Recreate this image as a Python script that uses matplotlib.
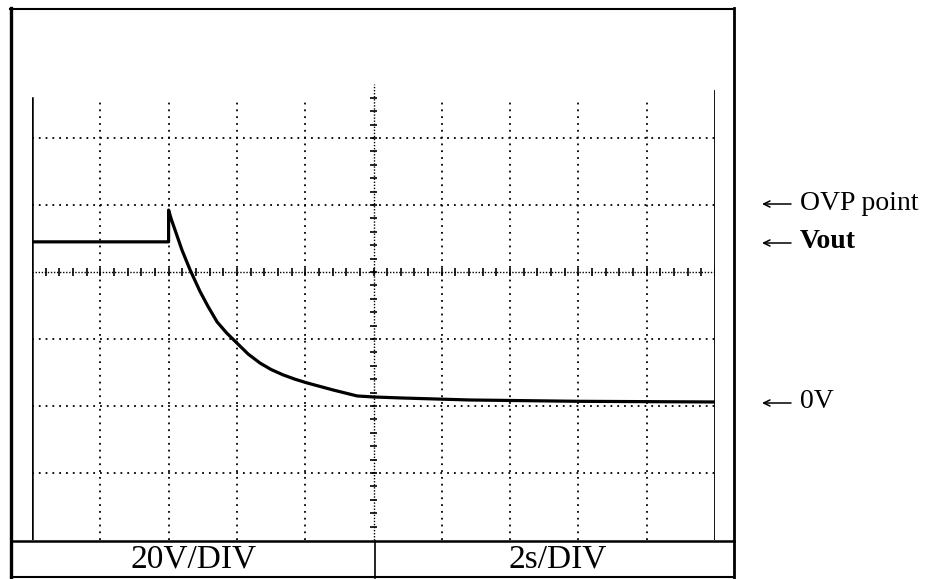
import numpy as np
import matplotlib.pyplot as plt

plt.rcParams['lines.scale_dashes'] = False
serif = ['Liberation Serif', 'DejaVu Serif']

# scope settings
volts_per_div = 20
secs_per_div = 2
ground_div = 2.06  # 0V level, divisions above the screen bottom

# trace (time in s, voltage in V)
t = [0.0, 4.0, 4.0, 4.08, 4.19, 4.39, 4.63, 4.92, 5.15, 5.42, 5.7, 6.0, 6.33,
     6.68, 7.0, 7.35, 7.7, 8.05, 8.81, 9.52, 10.0, 10.8, 12.8, 16.0, 20.0]
v = [47.8, 47.8, 57.3, 54.5, 51.3, 45.4, 39.4, 33.0, 28.6, 23.9, 20.6, 17.6, 14.3,
     11.6, 9.7, 8.1, 6.8, 5.7, 3.6, 1.8, 1.5, 1.2, 0.6, 0.2, 0.0]

bottom_labels = ['20V/DIV', '2s/DIV']
markers = [('OVP point', 203, 'normal'), ('Vout', 242, 'bold'), ('0V', 402, 'normal')]

W, H = 935, 579
fig = plt.figure(figsize=(W / 100, H / 100), dpi=100)

# frame / labels layer in pixel coordinates
frame = fig.add_axes([0, 0, 1, 1])
frame.set_xlim(0, W)
frame.set_ylim(H, 0)
frame.axis('off')
frame.plot([11, 11], [8, 578], color='black', lw=2.4)
frame.plot([10, 734], [9, 9], color='black', lw=1.5)
frame.plot([734, 734], [8, 578], color='black', lw=2.0)
frame.plot([11, 734], [577, 577], color='black', lw=1.5)
frame.plot([11, 734], [541, 541], color='black', lw=1.8)
frame.plot([375, 375], [541, 578], color='black', lw=1.2)
frame.text(194, 559, bottom_labels[0], family=serif, fontsize=24, ha='center', va='center')
frame.text(558, 559, bottom_labels[1], family=serif, fontsize=24, ha='center', va='center')
for name, ypix, wt in markers:
    frame.annotate('', xy=(762, ypix + 1), xytext=(791, ypix + 1),
                   arrowprops=dict(arrowstyle='->,head_length=0.45,head_width=0.22',
                                   color='black', lw=1.1, shrinkA=0, shrinkB=0))
    frame.text(800, ypix, name, family=serif, fontsize=20,
               weight=wt, ha='left', va='center')

# scope screen, in divisions (one division = 67 px high, 68.3 px wide)
ax = fig.add_axes([32 / W, (H - 540) / H, 683 / W, 469 / H])
ax.set_xlim(0, 10)
ax.set_ylim(0, 7)
ax.axis('off')

grid_top = 6.6
dots = (0, (1.3, 3.6))
for gx in range(1, 10):
    if gx == 5:
        continue
    ax.plot([gx, gx], [0, grid_top], color='black', lw=1.3, linestyle=dots)
for gy in range(1, 7):
    if gy == 4:
        continue
    ax.plot([0, 10], [gy, gy], color='black', lw=1.3, linestyle=dots)

# centre axes with minor ticks
ax.plot([0, 10], [4, 4], color='black', lw=1.0, linestyle=(0, (1, 1.2)))
ax.vlines(np.arange(0, 10.01, 0.2), 4 - 0.055, 4 + 0.055, color='black', lw=1.2)
ax.plot([5, 5], [0, 6.8], color='black', lw=1.0, linestyle=(0, (1, 1.2)))
ax.hlines(np.arange(0.2, 6.75, 0.2), 5 - 0.055, 5 + 0.055, color='black', lw=1.2)

# screen edges
ax.plot([0, 0], [0, grid_top], color='black', lw=1.8)
ax.plot([10, 10], [0, 6.7], color='black', lw=1.3)

# trace
xs = np.array(t) / secs_per_div
ys = np.array(v) / volts_per_div + ground_div
ax.plot(xs, ys, color='black', lw=2.3, solid_joinstyle='round')

fig.savefig('out.png', dpi=100)
